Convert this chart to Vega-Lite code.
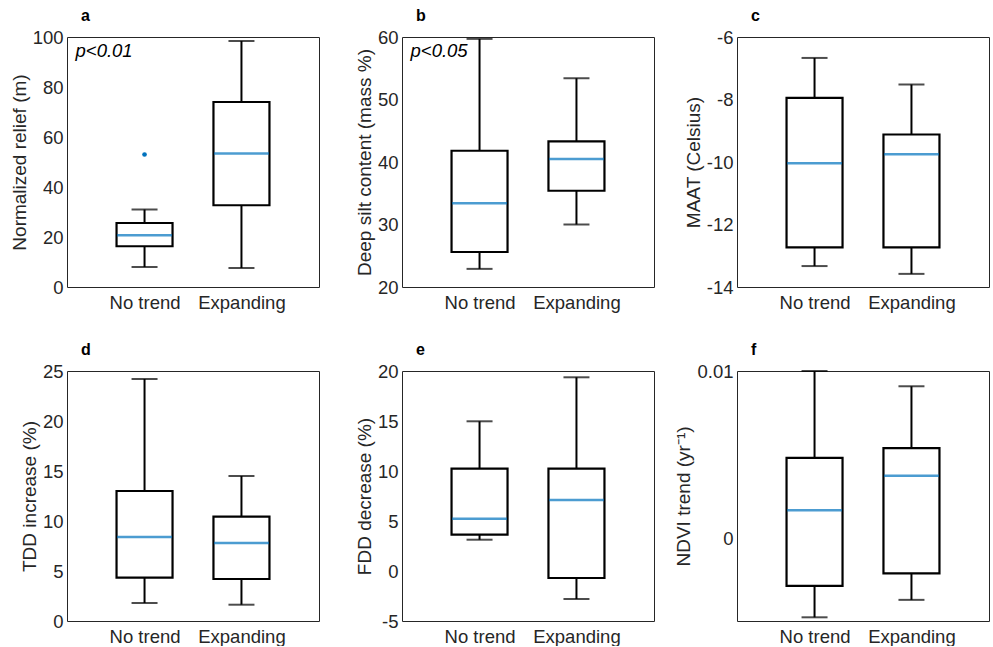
{
  "$schema": "https://vega.github.io/schema/vega-lite/v6.json",
  "background": "white",
  "padding": {"left": 9, "top": 7, "right": 4, "bottom": 0},
  "datasets": {
    "boxes": [
      {"panel": "a", "group": "No trend", "lower": 8, "q1": 16.3, "median": 20.7, "q3": 25.6, "upper": 31},
      {"panel": "a", "group": "Expanding", "lower": 7.6, "q1": 32.7, "median": 53.4, "q3": 74, "upper": 98.4},
      {"panel": "b", "group": "No trend", "lower": 22.9, "q1": 25.6, "median": 33.4, "q3": 41.8, "upper": 59.7},
      {"panel": "b", "group": "Expanding", "lower": 30.0, "q1": 35.4, "median": 40.5, "q3": 43.3, "upper": 53.4},
      {"panel": "c", "group": "No trend", "lower": -13.33, "q1": -12.73, "median": -10.04, "q3": -7.95, "upper": -6.67},
      {"panel": "c", "group": "Expanding", "lower": -13.58, "q1": -12.73, "median": -9.75, "q3": -9.12, "upper": -7.52},
      {"panel": "d", "group": "No trend", "lower": 1.8, "q1": 4.33, "median": 8.4, "q3": 13.0, "upper": 24.2},
      {"panel": "d", "group": "Expanding", "lower": 1.63, "q1": 4.2, "median": 7.8, "q3": 10.43, "upper": 14.5},
      {"panel": "e", "group": "No trend", "lower": 3.13, "q1": 3.63, "median": 5.23, "q3": 10.23, "upper": 14.97},
      {"panel": "e", "group": "Expanding", "lower": -2.8, "q1": -0.7, "median": 7.1, "q3": 10.23, "upper": 19.37},
      {"panel": "f", "group": "No trend", "lower": -0.00468, "q1": -0.00281, "median": 0.0017, "q3": 0.00482, "upper": 0.01},
      {"panel": "f", "group": "Expanding", "lower": -0.00364, "q1": -0.00206, "median": 0.00375, "q3": 0.0054, "upper": 0.00909}
    ],
    "outliers": [
      {"panel": "a", "group": "No trend", "value": 53}
    ],
    "notes": [
      {"panel": "a", "group": "No trend", "y": 92, "label": "p<0.01"},
      {"panel": "b", "group": "No trend", "y": 56.8, "label": "p<0.05"}
    ]
  },
  "columns": 3,
  "bounds": "flush",
  "spacing": {"row": 84, "column": 83},
  "config": {
    "font": "Liberation Sans",
    "view": {"stroke": "#262626", "strokeWidth": 1},
    "axis": {"labelFontSize": 18.5, "titleFontSize": 19, "labelColor": "#262626", "titleColor": "#262626", "titleFontWeight": "normal", "domain": false, "ticks": false, "grid": false},
    "title": {"anchor": "start", "frame": "group", "dx": 14, "fontSize": 16, "fontWeight": "bold", "color": "#000000", "baseline": "alphabetic", "offset": 4}
  },
  "concat": [
    {
      "title": "a",
      "width": 252, "height": 250,
      "data": {"name": "boxes"},
      "transform": [{"filter": "datum.panel === 'a'"}],
      "encoding": {"x": {"field": "group", "type": "nominal", "sort": ["No trend", "Expanding"], "scale": {"type": "point", "padding": 0.8}, "axis": {"title": null, "labelAngle": 0, "labelPadding": 6}}},
      "layer": [
        {"mark": {"type": "rule", "color": "#000000", "strokeWidth": 2},
         "encoding": {"y": {"field": "lower", "type": "quantitative", "scale": {"domain": [0, 100], "nice": false, "zero": false}, "axis": {"title": "Normalized relief (m)", "values": [0, 20, 40, 60, 80, 100], "labelExpr": "'' + datum.value", "labelPadding": 4, "titlePadding": 3}}, "y2": {"field": "upper"}}},
        {"mark": {"type": "bar", "fill": "#ffffff", "stroke": "#000000", "strokeWidth": 2.2, "width": 56},
         "encoding": {"y": {"field": "q1", "type": "quantitative", "scale": {"domain": [0, 100], "nice": false, "zero": false}}, "y2": {"field": "q3"}}},
        {"mark": {"type": "tick", "color": "#0072BD", "thickness": 2.5, "size": 55, "orient": "horizontal"},
         "encoding": {"y": {"field": "median", "type": "quantitative", "scale": {"domain": [0, 100], "nice": false, "zero": false}}}},
        {"transform": [{"fold": ["lower", "upper"], "as": ["stat", "value"]}],
         "mark": {"type": "tick", "color": "#000000", "thickness": 2, "size": 26, "orient": "horizontal"},
         "encoding": {"y": {"field": "value", "type": "quantitative", "scale": {"domain": [0, 100], "nice": false, "zero": false}}}},
        {"data": {"name": "outliers"}, "transform": [{"filter": "datum.panel === 'a'"}],
         "mark": {"type": "circle", "color": "#0072BD", "size": 22, "opacity": 1},
         "encoding": {"y": {"field": "value", "type": "quantitative", "scale": {"domain": [0, 100], "nice": false, "zero": false}}}},
        {"data": {"name": "notes"}, "transform": [{"filter": "datum.panel === 'a'"}],
         "mark": {"type": "text", "align": "left", "baseline": "alphabetic", "dx": -69, "fontSize": 18.5, "fontStyle": "italic", "color": "#000000"},
         "encoding": {"y": {"field": "y", "type": "quantitative", "scale": {"domain": [0, 100], "nice": false, "zero": false}}, "text": {"field": "label"}}}
      ]
    },
    {
      "title": "b",
      "width": 252, "height": 250,
      "data": {"name": "boxes"},
      "transform": [{"filter": "datum.panel === 'b'"}],
      "encoding": {"x": {"field": "group", "type": "nominal", "sort": ["No trend", "Expanding"], "scale": {"type": "point", "padding": 0.8}, "axis": {"title": null, "labelAngle": 0, "labelPadding": 6}}},
      "layer": [
        {"mark": {"type": "rule", "color": "#000000", "strokeWidth": 2},
         "encoding": {"y": {"field": "lower", "type": "quantitative", "scale": {"domain": [20, 60], "nice": false, "zero": false}, "axis": {"title": "Deep silt content (mass %)", "values": [20, 30, 40, 50, 60], "labelExpr": "'' + datum.value", "labelPadding": 4, "titlePadding": 3}}, "y2": {"field": "upper"}}},
        {"mark": {"type": "bar", "fill": "#ffffff", "stroke": "#000000", "strokeWidth": 2.2, "width": 56},
         "encoding": {"y": {"field": "q1", "type": "quantitative", "scale": {"domain": [20, 60], "nice": false, "zero": false}}, "y2": {"field": "q3"}}},
        {"mark": {"type": "tick", "color": "#0072BD", "thickness": 2.5, "size": 55, "orient": "horizontal"},
         "encoding": {"y": {"field": "median", "type": "quantitative", "scale": {"domain": [20, 60], "nice": false, "zero": false}}}},
        {"transform": [{"fold": ["lower", "upper"], "as": ["stat", "value"]}],
         "mark": {"type": "tick", "color": "#000000", "thickness": 2, "size": 26, "orient": "horizontal"},
         "encoding": {"y": {"field": "value", "type": "quantitative", "scale": {"domain": [20, 60], "nice": false, "zero": false}}}},
        {"data": {"name": "notes"}, "transform": [{"filter": "datum.panel === 'b'"}],
         "mark": {"type": "text", "align": "left", "baseline": "alphabetic", "dx": -69, "fontSize": 18.5, "fontStyle": "italic", "color": "#000000"},
         "encoding": {"y": {"field": "y", "type": "quantitative", "scale": {"domain": [20, 60], "nice": false, "zero": false}}, "text": {"field": "label"}}}
      ]
    },
    {
      "title": "c",
      "width": 252, "height": 250,
      "data": {"name": "boxes"},
      "transform": [{"filter": "datum.panel === 'c'"}],
      "encoding": {"x": {"field": "group", "type": "nominal", "sort": ["No trend", "Expanding"], "scale": {"type": "point", "padding": 0.8}, "axis": {"title": null, "labelAngle": 0, "labelPadding": 6}}},
      "layer": [
        {"mark": {"type": "rule", "color": "#000000", "strokeWidth": 2},
         "encoding": {"y": {"field": "lower", "type": "quantitative", "scale": {"domain": [-14, -6], "nice": false, "zero": false}, "axis": {"title": "MAAT (Celsius)", "values": [-14, -12, -10, -8, -6], "labelExpr": "'' + datum.value", "labelPadding": 4, "titlePadding": 3}}, "y2": {"field": "upper"}}},
        {"mark": {"type": "bar", "fill": "#ffffff", "stroke": "#000000", "strokeWidth": 2.2, "width": 56},
         "encoding": {"y": {"field": "q1", "type": "quantitative", "scale": {"domain": [-14, -6], "nice": false, "zero": false}}, "y2": {"field": "q3"}}},
        {"mark": {"type": "tick", "color": "#0072BD", "thickness": 2.5, "size": 55, "orient": "horizontal"},
         "encoding": {"y": {"field": "median", "type": "quantitative", "scale": {"domain": [-14, -6], "nice": false, "zero": false}}}},
        {"transform": [{"fold": ["lower", "upper"], "as": ["stat", "value"]}],
         "mark": {"type": "tick", "color": "#000000", "thickness": 2, "size": 26, "orient": "horizontal"},
         "encoding": {"y": {"field": "value", "type": "quantitative", "scale": {"domain": [-14, -6], "nice": false, "zero": false}}}}
      ]
    },
    {
      "title": "d",
      "width": 252, "height": 250,
      "data": {"name": "boxes"},
      "transform": [{"filter": "datum.panel === 'd'"}],
      "encoding": {"x": {"field": "group", "type": "nominal", "sort": ["No trend", "Expanding"], "scale": {"type": "point", "padding": 0.8}, "axis": {"title": null, "labelAngle": 0, "labelPadding": 6}}},
      "layer": [
        {"mark": {"type": "rule", "color": "#000000", "strokeWidth": 2},
         "encoding": {"y": {"field": "lower", "type": "quantitative", "scale": {"domain": [0, 25], "nice": false, "zero": false}, "axis": {"title": "TDD increase (%)", "values": [0, 5, 10, 15, 20, 25], "labelExpr": "'' + datum.value", "labelPadding": 4, "titlePadding": 3}}, "y2": {"field": "upper"}}},
        {"mark": {"type": "bar", "fill": "#ffffff", "stroke": "#000000", "strokeWidth": 2.2, "width": 56},
         "encoding": {"y": {"field": "q1", "type": "quantitative", "scale": {"domain": [0, 25], "nice": false, "zero": false}}, "y2": {"field": "q3"}}},
        {"mark": {"type": "tick", "color": "#0072BD", "thickness": 2.5, "size": 55, "orient": "horizontal"},
         "encoding": {"y": {"field": "median", "type": "quantitative", "scale": {"domain": [0, 25], "nice": false, "zero": false}}}},
        {"transform": [{"fold": ["lower", "upper"], "as": ["stat", "value"]}],
         "mark": {"type": "tick", "color": "#000000", "thickness": 2, "size": 26, "orient": "horizontal"},
         "encoding": {"y": {"field": "value", "type": "quantitative", "scale": {"domain": [0, 25], "nice": false, "zero": false}}}}
      ]
    },
    {
      "title": "e",
      "width": 252, "height": 250,
      "data": {"name": "boxes"},
      "transform": [{"filter": "datum.panel === 'e'"}],
      "encoding": {"x": {"field": "group", "type": "nominal", "sort": ["No trend", "Expanding"], "scale": {"type": "point", "padding": 0.8}, "axis": {"title": null, "labelAngle": 0, "labelPadding": 6}}},
      "layer": [
        {"mark": {"type": "rule", "color": "#000000", "strokeWidth": 2},
         "encoding": {"y": {"field": "lower", "type": "quantitative", "scale": {"domain": [-5, 20], "nice": false, "zero": false}, "axis": {"title": "FDD decrease (%)", "values": [-5, 0, 5, 10, 15, 20], "labelExpr": "'' + datum.value", "labelPadding": 4, "titlePadding": 3}}, "y2": {"field": "upper"}}},
        {"mark": {"type": "bar", "fill": "#ffffff", "stroke": "#000000", "strokeWidth": 2.2, "width": 56},
         "encoding": {"y": {"field": "q1", "type": "quantitative", "scale": {"domain": [-5, 20], "nice": false, "zero": false}}, "y2": {"field": "q3"}}},
        {"mark": {"type": "tick", "color": "#0072BD", "thickness": 2.5, "size": 55, "orient": "horizontal"},
         "encoding": {"y": {"field": "median", "type": "quantitative", "scale": {"domain": [-5, 20], "nice": false, "zero": false}}}},
        {"transform": [{"fold": ["lower", "upper"], "as": ["stat", "value"]}],
         "mark": {"type": "tick", "color": "#000000", "thickness": 2, "size": 26, "orient": "horizontal"},
         "encoding": {"y": {"field": "value", "type": "quantitative", "scale": {"domain": [-5, 20], "nice": false, "zero": false}}}}
      ]
    },
    {
      "title": "f",
      "width": 252, "height": 250,
      "data": {"name": "boxes"},
      "transform": [{"filter": "datum.panel === 'f'"}],
      "encoding": {"x": {"field": "group", "type": "nominal", "sort": ["No trend", "Expanding"], "scale": {"type": "point", "padding": 0.8}, "axis": {"title": null, "labelAngle": 0, "labelPadding": 6}}},
      "layer": [
        {"mark": {"type": "rule", "color": "#000000", "strokeWidth": 2},
         "encoding": {"y": {"field": "lower", "type": "quantitative", "scale": {"domain": [-0.0049, 0.01], "nice": false, "zero": false}, "axis": {"title": "NDVI trend (yr⁻¹)", "values": [0, 0.01], "labelExpr": "'' + datum.value", "labelPadding": 4, "titlePadding": 3}}, "y2": {"field": "upper"}}},
        {"mark": {"type": "bar", "fill": "#ffffff", "stroke": "#000000", "strokeWidth": 2.2, "width": 56},
         "encoding": {"y": {"field": "q1", "type": "quantitative", "scale": {"domain": [-0.0049, 0.01], "nice": false, "zero": false}}, "y2": {"field": "q3"}}},
        {"mark": {"type": "tick", "color": "#0072BD", "thickness": 2.5, "size": 55, "orient": "horizontal"},
         "encoding": {"y": {"field": "median", "type": "quantitative", "scale": {"domain": [-0.0049, 0.01], "nice": false, "zero": false}}}},
        {"transform": [{"fold": ["lower", "upper"], "as": ["stat", "value"]}],
         "mark": {"type": "tick", "color": "#000000", "thickness": 2, "size": 26, "orient": "horizontal"},
         "encoding": {"y": {"field": "value", "type": "quantitative", "scale": {"domain": [-0.0049, 0.01], "nice": false, "zero": false}}}}
      ]
    }
  ]
}
